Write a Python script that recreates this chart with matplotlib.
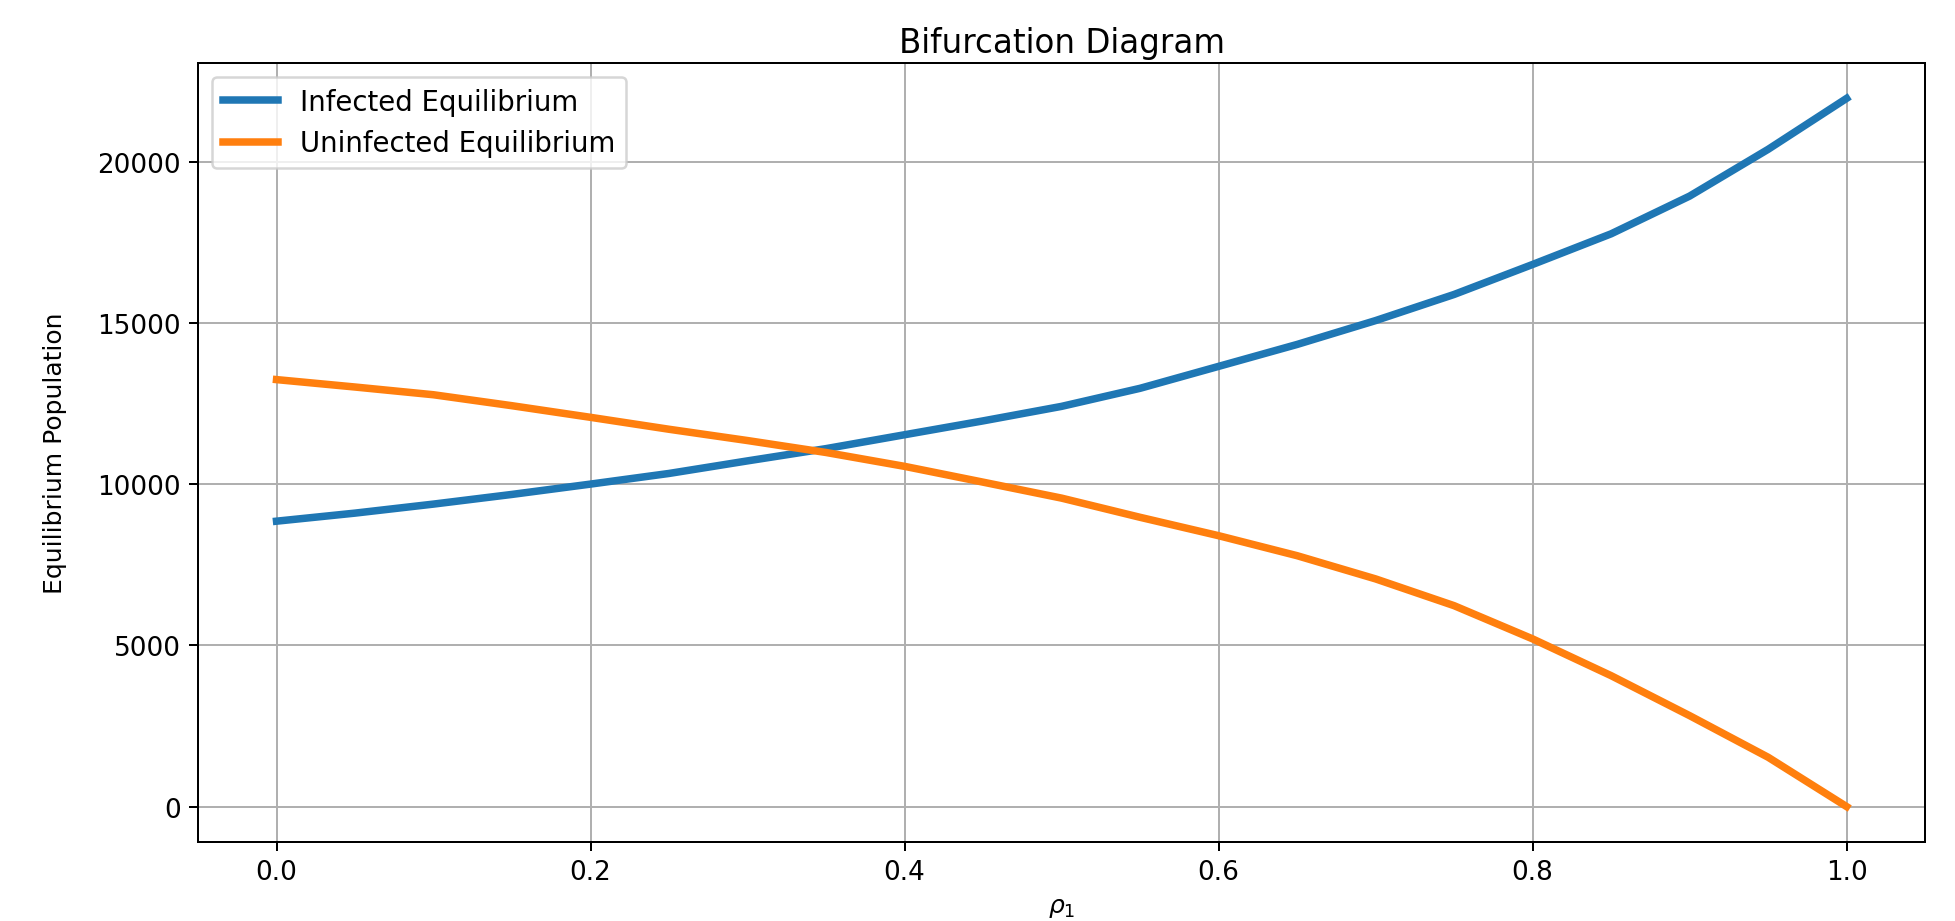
import numpy as np
import matplotlib
matplotlib.use('Agg')
import matplotlib.pyplot as plt

# values
rho_1 = [0.0, 0.05, 0.1, 0.15, 0.2, 0.25, 0.3, 0.35, 0.4, 0.45, 0.5,
         0.55, 0.6, 0.65, 0.7, 0.75, 0.8, 0.85, 0.9, 0.95, 1.0]
infected_eq = [8850, 9100, 9380, 9680, 10000, 10330, 10720, 11100, 11530, 11960, 12410,
               12970, 13650, 14330, 15070, 15880, 16810, 17760, 18930, 20380, 21960]
uninfected_eq = [13240, 13010, 12770, 12430, 12070, 11700, 11350, 10980, 10550, 10060, 9565,
                 8970, 8400, 7780, 7060, 6230, 5200, 4060, 2820, 1530, 0]

dpi = 180
fig = plt.figure(figsize=(1955 / dpi, 922 / dpi), dpi=dpi)
ax = fig.add_axes([0.1013, 0.0857, 0.8834, 0.8449])

ax.plot(rho_1, infected_eq, linewidth=3, label='Infected Equilibrium')
ax.plot(rho_1, uninfected_eq, linewidth=3, label='Uninfected Equilibrium')

ax.set_title('Bifurcation Diagram', fontsize=13, pad=4.5)
ax.set_xlabel(r'$\rho_1$')
ax.set_ylabel('Equilibrium Population', labelpad=12)
ax.tick_params(axis='both', labelsize=10.5)
ax.legend(loc='upper left', fontsize=11)
ax.grid(True)

fig.savefig('out.png', dpi=dpi)
